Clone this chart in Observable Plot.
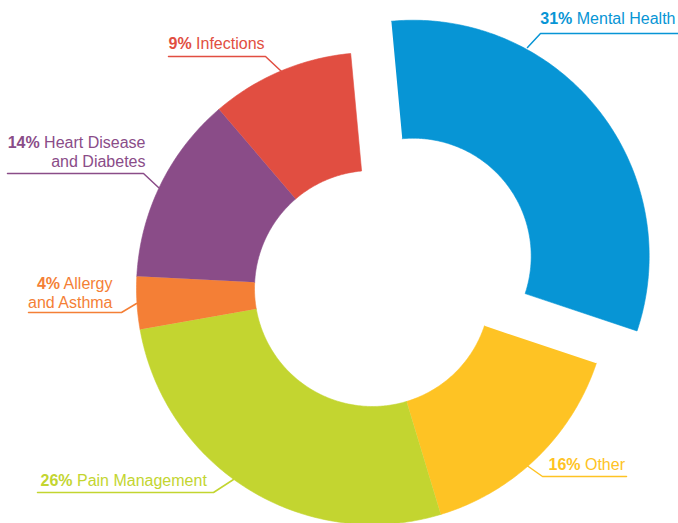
<!DOCTYPE html>
<html><head><meta charset="utf-8">
<script src="https://cdn.jsdelivr.net/npm/d3@7"></script>
<script src="https://cdn.jsdelivr.net/npm/@observablehq/plot@0.6"></script>
<style>html,body{margin:0;padding:0;background:#fff}</style>
</head><body><div id="chart"></div>
<script>
// ---- data ----
const categories = ["Mental Health", "Other", "Pain Management", "Allergy and Asthma", "Heart Disease and Diabetes", "Infections"];
// percentages printed in the labels
const shares = [31, 16, 26, 4, 14, 9];
// slice sizes as drawn in the picture
const sliceShares = [31.6, 15.2, 26.9, 3.6, 12.9, 9.8];
const labelTexts = ["Mental Health", "Other", "Pain Management", "Allergy\nand Asthma", "Heart Disease\nand Diabetes", "Infections"];
const colors = ["#0795d5", "#fec324", "#c3d530", "#f47f36", "#8a4c88", "#e14e41"];
const explodedCategories = ["Mental Health"];

// ---- layout (pixels) ----
const W = 678, H = 523, CX = 372, CY = 288, R = 236;
const innerRatio = 0.5, explodeDist = 0.22, startAngle = -5.3 * Math.PI / 180;
const px2x = px => (px - CX) / R;
const px2y = py => (CY - py) / R;
// label anchors & leader polylines, in pixels
const labelLayout = [
  {anchor: "end",   x: 675, y: 23,  leader: [[527,47],[540,33],[678,33]]},
  {anchor: "start", x: 548, y: 469, leader: [[525,464],[542,476],[626,476]]},
  {anchor: "start", x: 40,  y: 485, leader: [[37,492],[213,492],[233,479]]},
  {anchor: "end",   x: 112, y: 307, leader: [[28,312],[121,312],[136,303]]},
  {anchor: "end",   x: 145, y: 166, leader: [[7,173],[143,173],[158,187]]},
  {anchor: "start", x: 168, y: 48,  leader: [[168,56],[265,56],[281,71]]}
];

// ---- slice polygons from pie angles ----
const arcs = d3.pie().sort(null).startAngle(startAngle).endAngle(startAngle + 2 * Math.PI)(sliceShares);
const slicePts = [];
arcs.forEach((a, i) => {
  const cat = categories[i];
  const mid = (a.startAngle + a.endAngle) / 2;
  const off = explodedCategories.includes(cat) ? explodeDist : 0;
  const ox = off * Math.sin(mid), oy = off * Math.cos(mid);
  const n = Math.max(8, Math.ceil((a.endAngle - a.startAngle) * 80));
  for (let k = 0; k <= n; k++) {
    const t = a.startAngle + (a.endAngle - a.startAngle) * k / n;
    slicePts.push({cat, x: ox + Math.sin(t), y: oy + Math.cos(t)});
  }
  for (let k = n; k >= 0; k--) {
    const t = a.startAngle + (a.endAngle - a.startAngle) * k / n;
    slicePts.push({cat, x: ox + innerRatio * Math.sin(t), y: oy + innerRatio * Math.cos(t)});
  }
});

const leaderPts = [];
labelLayout.forEach((L, i) => L.leader.forEach(([px, py]) => leaderPts.push({cat: categories[i], x: px2x(px), y: px2y(py)})));

const labelRows = categories.map((cat, i) => ({
  cat, text: `${shares[i]}% ${labelTexts[i]}`,
  x: px2x(labelLayout[i].x), y: px2y(labelLayout[i].y), anchor: labelLayout[i].anchor
}));

const font = "'Liberation Sans', Arial, sans-serif";
const textOpts = {x: "x", y: "y", text: "text", fill: "cat", fontSize: 16, lineAnchor: "bottom", lineHeight: 1.18, className: "lbl"};

const chart = Plot.plot({
  width: W, height: H, margin: 0,
  style: {fontFamily: font, background: "#fff"},
  x: {domain: [px2x(0), px2x(W)], axis: null},
  y: {domain: [px2y(H), px2y(0)], axis: null},
  color: {domain: categories, range: colors},
  marks: [
    Plot.line(slicePts, {x: "x", y: "y", z: "cat", fill: "cat", stroke: "cat", strokeWidth: 0.6}),
    Plot.line(leaderPts, {x: "x", y: "y", z: "cat", stroke: "cat", strokeWidth: 1.5}),
    Plot.text(labelRows.filter(d => d.anchor === "start"), {...textOpts, textAnchor: "start"}),
    Plot.text(labelRows.filter(d => d.anchor === "end"), {...textOpts, textAnchor: "end"})
  ]
});
document.getElementById("chart").appendChild(chart);

// bold percentage prefix
chart.querySelectorAll(".lbl text").forEach(t => {
  const first = t.querySelector("tspan") || t;
  const m = first.textContent.match(/^(\d+%)(.*)$/s);
  if (!m) return;
  first.textContent = "";
  const ns = "http://www.w3.org/2000/svg";
  const b = document.createElementNS(ns, "tspan");
  b.setAttribute("font-weight", "bold");
  b.textContent = m[1];
  const r = document.createElementNS(ns, "tspan");
  r.textContent = m[2];
  first.appendChild(b); first.appendChild(r);
});
</script>
</body></html>
